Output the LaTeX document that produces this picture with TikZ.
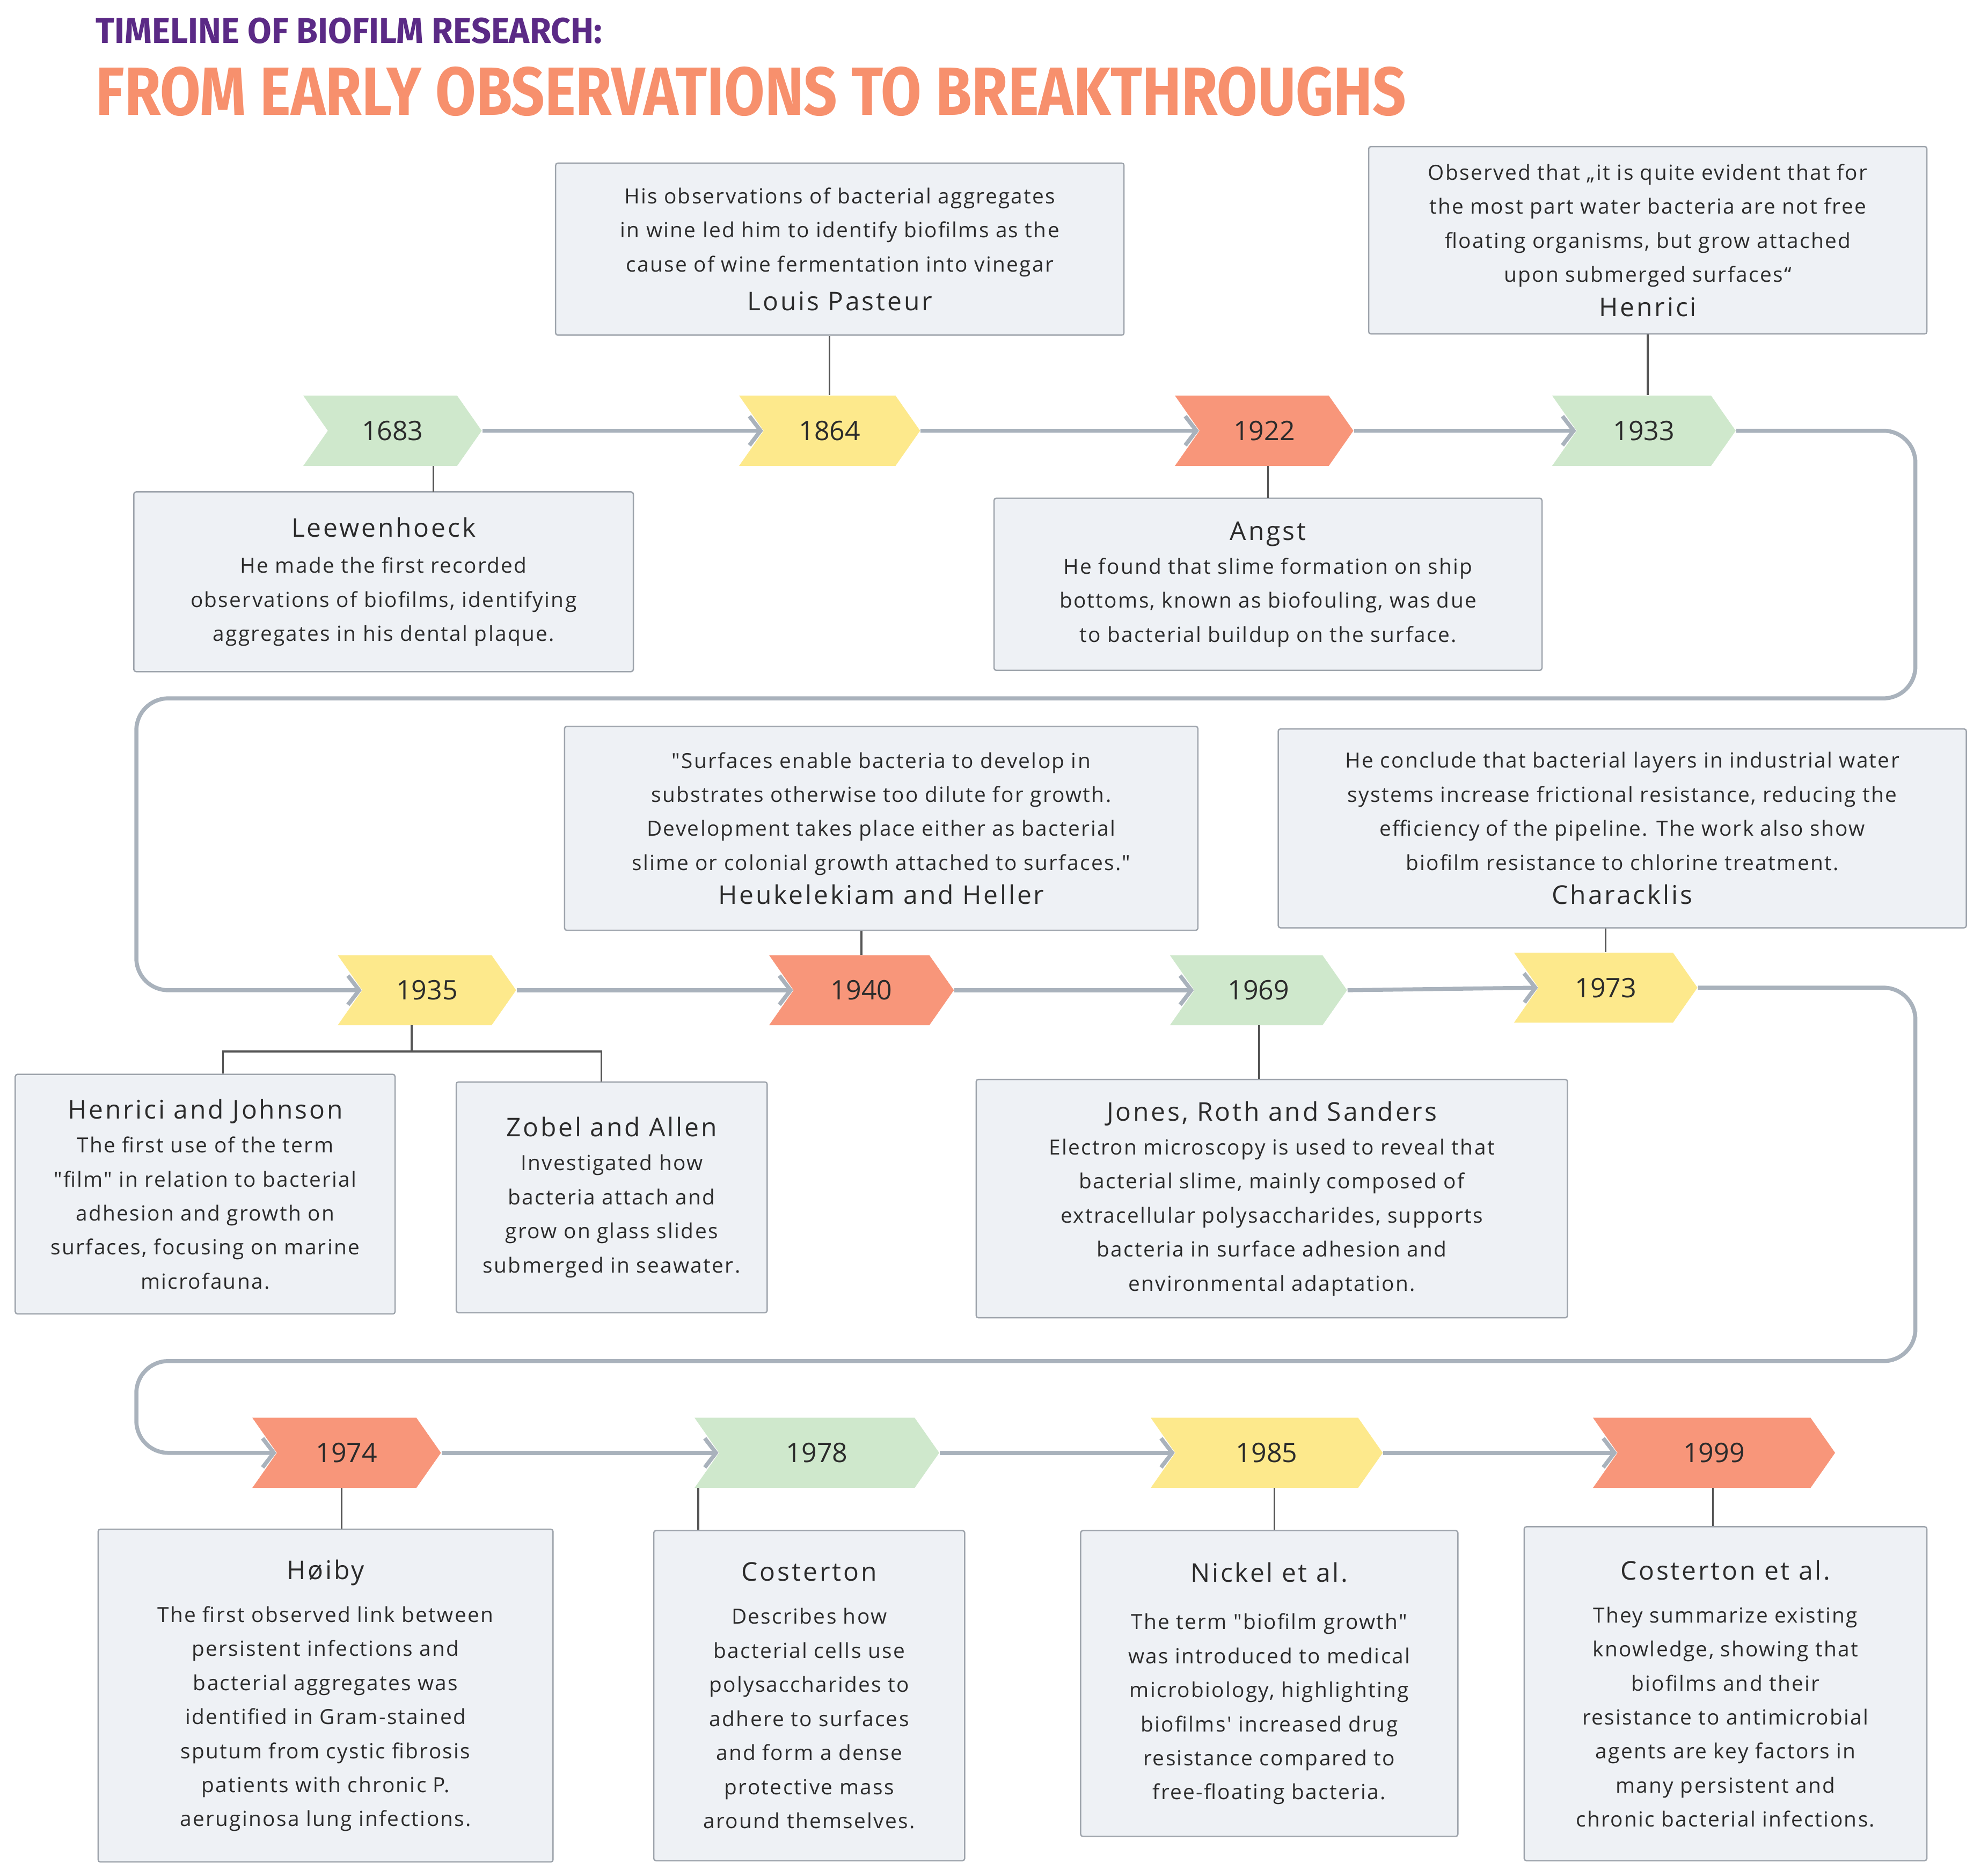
\documentclass[tikz,border=0pt]{standalone}
\usepackage{fontspec}
\setmainfont{Open Sans}
\newfontfamily\bodyfont{Open Sans}[LetterSpace=6]
\newfontfamily\namefont{Open Sans}[LetterSpace=8]
\newfontfamily\titlefont{Fira Sans}
\newcommand{\whof}{\namefont\fontsize{11.5}{15}\selectfont}
\usetikzlibrary{shapes.symbols,arrows.meta}
\definecolor{cgreen}{HTML}{CFE8CC}
\definecolor{cyellow}{HTML}{FDE98C}
\definecolor{csalmon}{HTML}{F8967A}
\definecolor{boxfill}{HTML}{EEF1F5}
\definecolor{boxline}{HTML}{9EA4AC}
\definecolor{linec}{HTML}{A9B2BC}
\definecolor{tpurple}{HTML}{5B2A86}
\definecolor{torange}{HTML}{F7906D}
\definecolor{txt}{HTML}{2B2B2B}
\tikzset{
  year/.style={signal, signal from=west, signal to=east, signal pointer angle=110,
    minimum height=1.1cm, inner sep=0pt, font=\fontsize{12}{14}\selectfont, text=txt},
  box/.style={draw=boxline, fill=boxfill, line width=0.6pt, rounded corners=1pt,
    align=center, inner sep=0pt, text=txt, font=\bodyfont\fontsize{9.3}{15.2}\selectfont},
  flow/.style={draw=linec, line width=1.8pt, rounded corners=0.5cm,
    -{Straight Barb[length=5pt,width=13pt,line width=1.8pt]}},
  stem/.style={draw=txt!80, line width=0.8pt}
}
\begin{document}
\begin{tikzpicture}
	\useasboundingbox (0,0) rectangle (31.2,-29.34);
	% titles
	\node[anchor=west, text=tpurple, inner sep=0] (t1) at (1.5,-0.48)
		{\resizebox{7.94cm}{0.4cm}{\titlefont\bfseries TIMELINE OF BIOFILM RESEARCH:}};
	\node[anchor=west, text=torange, inner sep=0] (t2) at (1.5,-1.44)
		{\resizebox{20.56cm}{0.76cm}{\titlefont\bfseries FROM EARLY OBSERVATIONS TO BREAKTHROUGHS}};

	% years
	\node[year, fill=cgreen, minimum width=2.8cm] (y1683) at (6.16,-6.76) {1683};
	\node[year, fill=cyellow, minimum width=2.84cm] (y1864) at (13.02,-6.76) {1864};
	\node[year, fill=csalmon, minimum width=2.8cm] (y1922) at (19.84,-6.76) {1922};
	\node[year, fill=cgreen, minimum width=2.88cm] (y1933) at (25.8,-6.76) {1933};
	\node[year, fill=cyellow, minimum width=2.8cm] (y1935) at (6.7,-15.54) {1935};
	\node[year, fill=csalmon, minimum width=2.9cm] (y1940) at (13.52,-15.54) {1940};
	\node[year, fill=cgreen, minimum width=2.78cm] (y1969) at (19.75,-15.54) {1969};
	\node[year, fill=cyellow, minimum width=2.88cm] (y1973) at (25.2,-15.5) {1973};
	\node[year, fill=csalmon, minimum width=2.96cm] (y1974) at (5.44,-22.8) {1974};
	\node[year, fill=cgreen, minimum width=3.84cm] (y1978) at (12.82,-22.8) {1978};
	\node[year, fill=cyellow, minimum width=3.64cm] (y1985) at (19.88,-22.8) {1985};
	\node[year, fill=csalmon, minimum width=3.8cm] (y1999) at (26.9,-22.8) {1999};

	% row arrows
	\foreach \a/\b in {y1683/y1864, y1864/y1922, y1922/y1933, y1935/y1940, y1940/y1969,
		y1969/y1973, y1974/y1978, y1978/y1985, y1985/y1999}
		\draw[flow] (\a.east) -- (\b.west);
	\draw[flow] (y1933.east) -- (30.06,-6.76) -- (30.06,-10.96) -- (2.14,-10.96)
		-- (2.14,-15.54) -- (y1935.west);
	\draw[flow] (y1973.east) -- (30.06,-15.5) -- (30.06,-21.36) -- (2.14,-21.36)
		-- (2.14,-22.8) -- (y1974.west);

	% boxes
	\node[box, minimum width=8.92cm, minimum height=2.7cm] (pasteur) at (13.18,-3.91)
		{His observations of bacterial aggregates\\ in wine led him to identify biofilms as the\\
		cause of wine fermentation into vinegar\\[2pt] {\whof Louis Pasteur}};
	\node[box, minimum width=8.76cm, minimum height=2.94cm] (henrici) at (25.86,-3.77)
		{Observed that „it is quite evident that for\\ the most part water bacteria are not free\\
		floating organisms, but grow attached\\ upon submerged surfaces“\\ {\whof Henrici}};
	\node[box, minimum width=7.84cm, minimum height=2.82cm] (leeuw) at (6.02,-9.13)
		{{\whof Leewenhoeck}\\[1pt] He made the first recorded\\ observations of biofilms, identifying\\
		aggregates in his dental plaque.};
	\node[box, minimum width=8.6cm, minimum height=2.7cm] (angst) at (19.9,-9.17)
		{{\whof Angst}\\ He found that slime formation on ship\\ bottoms, known as biofouling, was due\\
		to bacterial buildup on the surface.};
	\node[box, minimum width=9.94cm, minimum height=3.2cm] (heuk) at (13.83,-13.0)
		{"Surfaces enable bacteria to develop in\\ substrates otherwise too dilute for growth.\\
		Development takes place either as bacterial\\ slime or colonial growth attached to surfaces."\\
		{\whof Heukelekiam and Heller}};
	\node[box, minimum width=10.8cm, minimum height=3.12cm] (charack) at (25.46,-13.0)
		{He conclude that bacterial layers in industrial water\\ systems increase frictional resistance, reducing the\\
		efficiency of the pipeline. The work also show\\ biofilm resistance to chlorine treatment.\\
		{\whof Characklis}};
	\node[box, minimum width=5.96cm, minimum height=3.76cm] (henjoh) at (3.22,-18.74)
		{{\whof Henrici and Johnson}\\ The first use of the term\\ "film" in relation to bacterial\\
		adhesion and growth on\\ surfaces, focusing on marine\\ microfauna.};
	\node[box, minimum width=4.88cm, minimum height=3.62cm] (zobel) at (9.6,-18.79)
		{{\whof Zobel and Allen}\\ Investigated how\\ bacteria attach and\\ grow on glass slides\\
		submerged in seawater.};
	\node[box, minimum width=9.28cm, minimum height=3.74cm] (jones) at (19.96,-18.81)
		{{\whof Jones, Roth and Sanders}\\ Electron microscopy is used to reveal that\\
		bacterial slime, mainly composed of\\ extracellular polysaccharides, supports\\
		bacteria in surface adhesion and\\ environmental adaptation.};
	\node[box, minimum width=7.14cm, minimum height=5.22cm] (hoiby) at (5.11,-26.61)
		{{\whof Høiby}\\[4pt] The first observed link between\\ persistent infections and\\
		bacterial aggregates was\\ identified in Gram-stained\\ sputum from cystic fibrosis\\
		patients with chronic P.\\ aeruginosa lung infections.};
	\node[box, minimum width=4.88cm, minimum height=5.18cm] (cost) at (12.7,-26.61)
		{{\whof Costerton}\\[4pt] Describes how\\ bacterial cells use\\ polysaccharides to\\
		adhere to surfaces\\ and form a dense\\ protective mass\\ around themselves.};
	\node[box, minimum width=5.92cm, minimum height=4.8cm] (nickel) at (19.92,-26.42)
		{{\whof Nickel et al.}\\[6pt] The term "biofilm growth"\\ was introduced to medical\\
		microbiology, highlighting\\ biofilms' increased drug\\ resistance compared to\\ free-floating bacteria.};
	\node[box, minimum width=6.32cm, minimum height=5.24cm] (costal) at (27.08,-26.58)
		{{\whof Costerton et al.}\\[4pt] They summarize existing\\ knowledge, showing that\\
		biofilms and their\\ resistance to antimicrobial\\ agents are key factors in\\
		many persistent and\\ chronic bacterial infections.};

	% stems
	\draw[stem] (y1864.north) -- (y1864.north |- pasteur.south);
	\draw[stem] (henrici.south) -- (henrici.south |- y1933.north);
	\draw[stem] (6.8,-7.31) -- (6.8 ,-7.72);
	\draw[stem] (19.9,-7.31) -- (19.9,-7.82);
	\draw[stem] (heuk.south -| y1940.north) -- (y1940.north);
	\draw[stem] (charack.south -| y1973.north) -- (y1973.north);
	\draw[stem] (6.46,-16.09) -- (6.46,-16.5);
	\draw[stem] (henjoh.north -| 3.5,0) -- (3.5,-16.5) -- (9.44,-16.5) -- (zobel.north -| 9.44,0);
	\draw[stem] (19.76,-16.09) -- (jones.north -| 19.76,0);
	\draw[stem] (5.36,-23.35) -- (hoiby.north -| 5.36,0);
	\draw[stem] (10.96,-23.35) -- (cost.north -| 10.96,0);
	\draw[stem] (20.0,-23.35) -- (nickel.north -| 20.0,0);
	\draw[stem] (26.88,-23.35) -- (costal.north -| 26.88,0);
\end{tikzpicture}
\end{document}
